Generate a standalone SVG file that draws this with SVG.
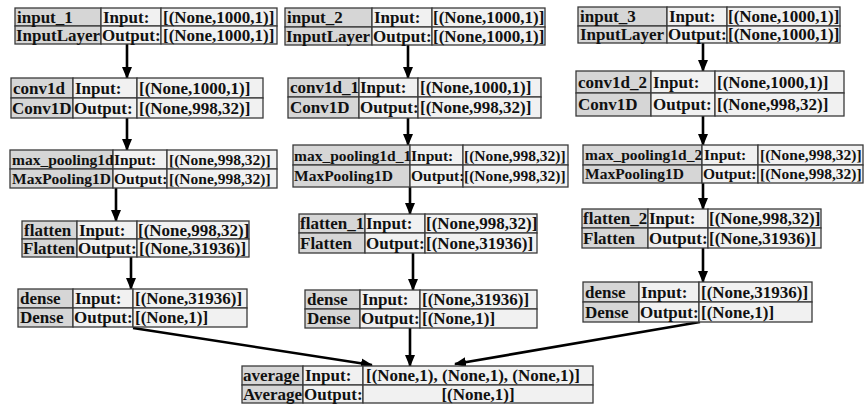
<svg xmlns="http://www.w3.org/2000/svg" width="864" height="404" viewBox="0 0 864 404">
<defs>
<style>
.n{fill:#d6d6d6;stroke:#3a3a3a;stroke-width:1.3}
.c{fill:#f1f1f1;stroke:#3a3a3a;stroke-width:1.3}
text{font-family:"Liberation Serif","Times New Roman",serif;font-weight:bold;font-size:17px;fill:#111}
.s{font-size:15.5px}
.e{stroke:#000;stroke-width:2.6;fill:none;marker-end:url(#ah)}
</style>
<marker id="ah" markerUnits="userSpaceOnUse" markerWidth="12" markerHeight="10" refX="11" refY="5" orient="auto">
<path d="M0,0 L12,5 L0,10 Z" fill="#000"/>
</marker>
</defs>
<rect width="864" height="404" fill="#fff"/>
<g id="connectors">
<line class="e" x1="127" y1="44" x2="127" y2="78"/>
<line class="e" x1="127" y1="118" x2="127" y2="150"/>
<line class="e" x1="116" y1="188" x2="116" y2="221"/>
<line class="e" x1="131" y1="257" x2="131" y2="289"/>
<line class="e" x1="408" y1="45" x2="408" y2="78"/>
<line class="e" x1="408" y1="118" x2="408" y2="145"/>
<line class="e" x1="410" y1="187" x2="410" y2="214"/>
<line class="e" x1="413" y1="253" x2="413" y2="290"/>
<line class="e" x1="703" y1="43" x2="703" y2="71"/>
<line class="e" x1="703" y1="116" x2="703" y2="145"/>
<line class="e" x1="703" y1="183" x2="703" y2="209"/>
<line class="e" x1="703" y1="248" x2="703" y2="282"/>
<line class="e" x1="133" y1="328" x2="372" y2="365"/>
<line class="e" x1="410" y1="328" x2="410" y2="366"/>
<line class="e" x1="700" y1="322" x2="455" y2="364"/>
</g>
<g id="input_1">
<rect class="n" x="15" y="8" width="86" height="18"/><rect class="n" x="15" y="26" width="86" height="18"/>
<rect class="c" x="101" y="8" width="60" height="18"/><rect class="c" x="101" y="26" width="60" height="18"/>
<rect class="c" x="161" y="8" width="116" height="18"/><rect class="c" x="161" y="26" width="116" height="18"/>
<text x="17" y="22.5">input_1</text><text x="16" y="40.5">InputLayer</text>
<text x="103" y="22.5">Input:</text><text x="102" y="40.5">Output:</text>
<text x="163" y="22.5">[(None,1000,1)]</text><text x="163" y="40.5">[(None,1000,1)]</text>
</g>
<g id="conv1d">
<rect class="n" x="11" y="78" width="62" height="20"/><rect class="n" x="11" y="98" width="62" height="20"/>
<rect class="c" x="73" y="78" width="64" height="20"/><rect class="c" x="73" y="98" width="64" height="20"/>
<rect class="c" x="137" y="78" width="126" height="20"/><rect class="c" x="137" y="98" width="126" height="20"/>
<text x="13" y="93.5">conv1d</text><text x="12" y="113.5">Conv1D</text>
<text x="75" y="93.5">Input:</text><text x="74" y="113.5">Output:</text>
<text x="139" y="93.5">[(None,1000,1)]</text><text x="139" y="113.5">[(None,998,32)]</text>
</g>
<g id="max_pooling1d">
<rect class="n" x="10" y="150" width="103" height="19"/><rect class="n" x="10" y="169" width="103" height="19"/>
<rect class="c" x="113" y="150" width="54" height="19"/><rect class="c" x="113" y="169" width="54" height="19"/>
<rect class="c" x="167" y="150" width="110" height="19"/><rect class="c" x="167" y="169" width="110" height="19"/>
<text class="s" x="12" y="165">max_pooling1d</text><text class="s" x="12" y="184">MaxPooling1D</text>
<text class="s" x="114" y="165">Input:</text><text class="s" x="114" y="184">Output:</text>
<text class="s" x="169" y="165">[(None,998,32)]</text><text class="s" x="169" y="184">[(None,998,32)]</text>
</g>
<g id="flatten">
<rect class="n" x="22" y="221" width="55" height="18"/><rect class="n" x="22" y="239" width="55" height="18"/>
<rect class="c" x="77" y="221" width="60" height="18"/><rect class="c" x="77" y="239" width="60" height="18"/>
<rect class="c" x="137" y="221" width="112" height="18"/><rect class="c" x="137" y="239" width="112" height="18"/>
<text x="24" y="235.5">flatten</text><text x="23" y="253.5">Flatten</text>
<text x="79" y="235.5">Input:</text><text x="78" y="253.5">Output:</text>
<text x="138" y="235.5">[(None,998,32)]</text><text x="139" y="253.5">[(None,31936)]</text>
</g>
<g id="dense">
<rect class="n" x="18" y="289" width="55" height="19"/><rect class="n" x="18" y="308" width="55" height="19"/>
<rect class="c" x="73" y="289" width="60" height="19"/><rect class="c" x="73" y="308" width="60" height="19"/>
<rect class="c" x="133" y="289" width="114" height="19"/><rect class="c" x="133" y="308" width="114" height="19"/>
<text x="20" y="304">dense</text><text x="20" y="323">Dense</text>
<text x="75" y="304">Input:</text><text x="74" y="323">Output:</text>
<text x="135" y="304">[(None,31936)]</text><text x="135" y="323">[(None,1)]</text>
</g>
<g id="input_2">
<rect class="n" x="285" y="8" width="87" height="19"/><rect class="n" x="285" y="27" width="87" height="18"/>
<rect class="c" x="372" y="8" width="60" height="19"/><rect class="c" x="372" y="27" width="60" height="18"/>
<rect class="c" x="432" y="8" width="113" height="19"/><rect class="c" x="432" y="27" width="113" height="18"/>
<text x="287" y="23">input_2</text><text x="286" y="41.5">InputLayer</text>
<text x="374" y="23">Input:</text><text x="373" y="41.5">Output:</text>
<text x="433" y="23">[(None,1000,1)]</text><text x="433" y="41.5">[(None,1000,1)]</text>
</g>
<g id="conv1d_1">
<rect class="n" x="288" y="78" width="71" height="19"/><rect class="n" x="288" y="97" width="71" height="21"/>
<rect class="c" x="359" y="78" width="59" height="19"/><rect class="c" x="359" y="97" width="59" height="21"/>
<rect class="c" x="418" y="78" width="123" height="19"/><rect class="c" x="418" y="97" width="123" height="21"/>
<text x="290" y="93">conv1d_1</text><text x="290" y="113">Conv1D</text>
<text x="360" y="93">Input:</text><text x="360" y="113">Output:</text>
<text x="420" y="93">[(None,1000,1)]</text><text x="420" y="113">[(None,998,32)]</text>
</g>
<g id="max_pooling1d_1">
<rect class="n" x="293" y="145" width="117" height="20"/><rect class="n" x="293" y="165" width="117" height="22"/>
<rect class="c" x="410" y="145" width="53" height="20"/><rect class="c" x="410" y="165" width="53" height="22"/>
<rect class="c" x="463" y="145" width="105" height="20"/><rect class="c" x="463" y="165" width="105" height="22"/>
<text class="s" x="294" y="160.5">max_pooling1d_1</text><text class="s" x="294" y="181">MaxPooling1D</text>
<text class="s" x="411" y="160.5">Input:</text><text class="s" x="411" y="181">Output:</text>
<text class="s" x="464" y="160.5">[(None,998,32)]</text><text class="s" x="464" y="181">[(None,998,32)]</text>
</g>
<g id="flatten_1">
<rect class="n" x="299" y="214" width="66" height="19"/><rect class="n" x="299" y="233" width="66" height="20"/>
<rect class="c" x="365" y="214" width="60" height="19"/><rect class="c" x="365" y="233" width="60" height="20"/>
<rect class="c" x="425" y="214" width="112" height="19"/><rect class="c" x="425" y="233" width="112" height="20"/>
<text x="300" y="229">flatten_1</text><text x="300" y="248.5">Flatten</text>
<text x="366" y="229">Input:</text><text x="366" y="248.5">Output:</text>
<text x="426" y="229">[(None,998,32)]</text><text x="426" y="248.5">[(None,31936)]</text>
</g>
<g id="dense_col2">
<rect class="n" x="305" y="290" width="55" height="19"/><rect class="n" x="305" y="309" width="55" height="19"/>
<rect class="c" x="360" y="290" width="60" height="19"/><rect class="c" x="360" y="309" width="60" height="19"/>
<rect class="c" x="420" y="290" width="117" height="19"/><rect class="c" x="420" y="309" width="117" height="19"/>
<text x="307" y="305">dense</text><text x="307" y="324">Dense</text>
<text x="362" y="305">Input:</text><text x="361" y="324">Output:</text>
<text x="422" y="305">[(None,31936)]</text><text x="422" y="324">[(None,1)]</text>
</g>
<g id="input_3">
<rect class="n" x="578" y="7" width="89" height="19"/><rect class="n" x="578" y="26" width="89" height="17"/>
<rect class="c" x="667" y="7" width="60" height="19"/><rect class="c" x="667" y="26" width="60" height="17"/>
<rect class="c" x="727" y="7" width="113" height="19"/><rect class="c" x="727" y="26" width="113" height="17"/>
<text x="580" y="22">input_3</text><text x="580" y="40">InputLayer</text>
<text x="669" y="22">Input:</text><text x="668" y="40">Output:</text>
<text x="728" y="22">[(None,1000,1)]</text><text x="728" y="40">[(None,1000,1)]</text>
</g>
<g id="conv1d_2">
<rect class="n" x="576" y="71" width="75" height="22"/><rect class="n" x="576" y="93" width="75" height="23"/>
<rect class="c" x="651" y="71" width="64" height="22"/><rect class="c" x="651" y="93" width="64" height="23"/>
<rect class="c" x="715" y="71" width="129" height="22"/><rect class="c" x="715" y="93" width="129" height="23"/>
<text x="578" y="87.5">conv1d_2</text><text x="578" y="110">Conv1D</text>
<text x="653" y="87.5">Input:</text><text x="653" y="110">Output:</text>
<text x="717" y="87.5">[(None,1000,1)]</text><text x="717" y="110">[(None,998,32)]</text>
</g>
<g id="max_pooling1d_2">
<rect class="n" x="583" y="145" width="119" height="20"/><rect class="n" x="583" y="165" width="119" height="18"/>
<rect class="c" x="702" y="145" width="56" height="20"/><rect class="c" x="702" y="165" width="56" height="18"/>
<rect class="c" x="758" y="145" width="105" height="20"/><rect class="c" x="758" y="165" width="105" height="18"/>
<text class="s" x="585" y="160">max_pooling1d_2</text><text class="s" x="585" y="179">MaxPooling1D</text>
<text class="s" x="704" y="160">Input:</text><text class="s" x="703" y="179">Output:</text>
<text class="s" x="760" y="160">[(None,998,32)]</text><text class="s" x="760" y="179">[(None,998,32)]</text>
</g>
<g id="flatten_2">
<rect class="n" x="582" y="209" width="66" height="19"/><rect class="n" x="582" y="228" width="66" height="20"/>
<rect class="c" x="648" y="209" width="60" height="19"/><rect class="c" x="648" y="228" width="60" height="20"/>
<rect class="c" x="708" y="209" width="113" height="19"/><rect class="c" x="708" y="228" width="113" height="20"/>
<text x="583" y="224">flatten_2</text><text x="583" y="243.5">Flatten</text>
<text x="649" y="224">Input:</text><text x="649" y="243.5">Output:</text>
<text x="709" y="224">[(None,998,32)]</text><text x="709" y="243.5">[(None,31936)]</text>
</g>
<g id="dense_col3">
<rect class="n" x="583" y="282" width="56" height="20"/><rect class="n" x="583" y="302" width="56" height="20"/>
<rect class="c" x="639" y="282" width="60" height="20"/><rect class="c" x="639" y="302" width="60" height="20"/>
<rect class="c" x="699" y="282" width="113" height="20"/><rect class="c" x="699" y="302" width="113" height="20"/>
<text x="585" y="297.5">dense</text><text x="585" y="317.5">Dense</text>
<text x="641" y="297.5">Input:</text><text x="640" y="317.5">Output:</text>
<text x="701" y="297.5">[(None,31936)]</text><text x="701" y="317.5">[(None,1)]</text>
</g>
<g id="average">
<rect class="n" x="242" y="366" width="61" height="19"/><rect class="n" x="242" y="385" width="61" height="18"/>
<rect class="c" x="303" y="366" width="60" height="19"/><rect class="c" x="303" y="385" width="60" height="18"/>
<rect class="c" x="363" y="366" width="230" height="19"/><rect class="c" x="363" y="385" width="230" height="18"/>
<text x="243" y="381">average</text><text x="243" y="399.5">Average</text>
<text x="305" y="381">Input:</text><text x="304" y="399.5">Output:</text>
<text x="366" y="381">[(None,1), (None,1), (None,1)]</text><text x="478" y="399.5" text-anchor="middle">[(None,1)]</text>
</g>
</svg>
